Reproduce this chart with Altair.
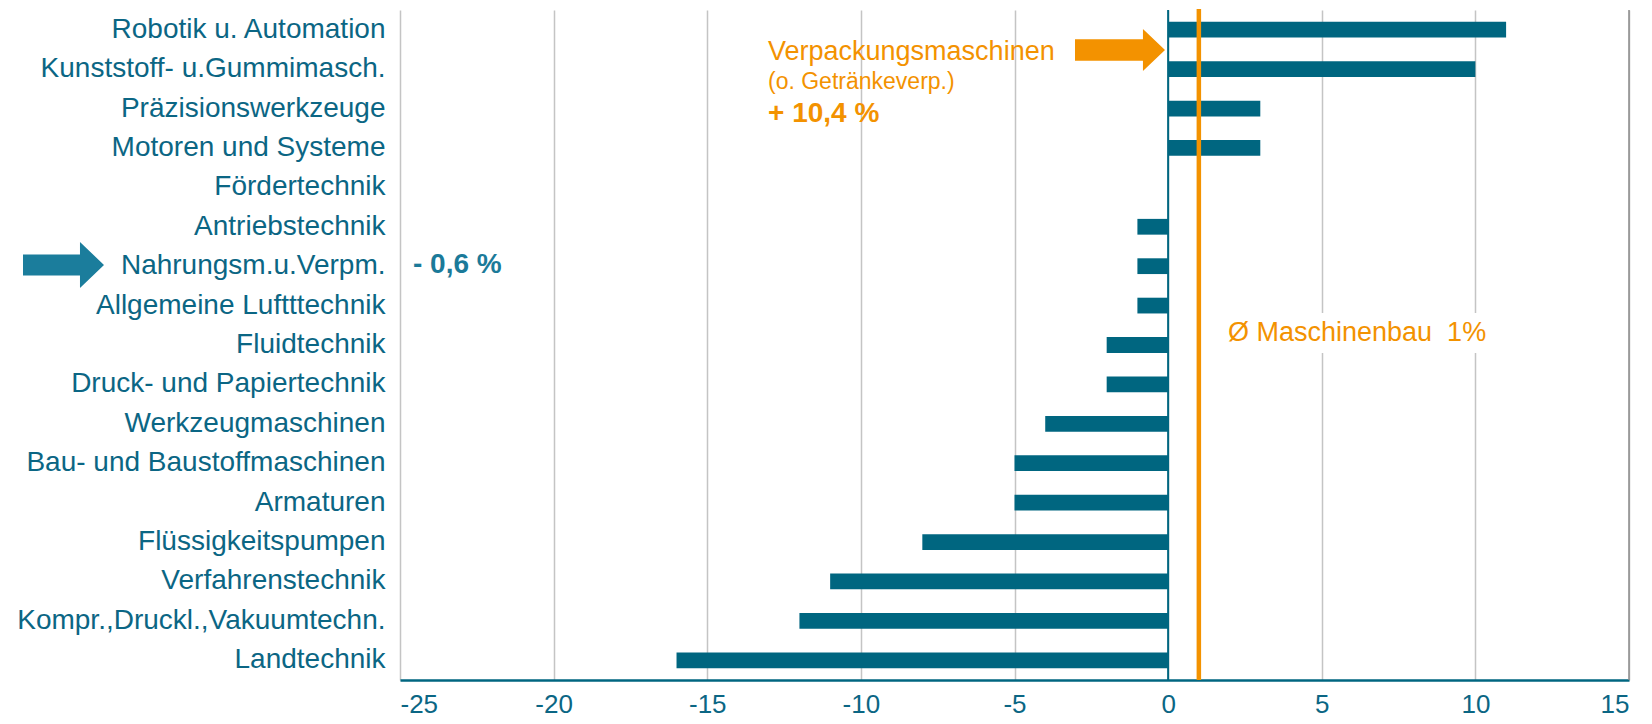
import altair as alt
import pandas as pd

categories = [
    "Robotik u. Automation", "Kunststoff- u.Gummimasch.", "Präzisionswerkzeuge",
    "Motoren und Systeme", "Fördertechnik", "Antriebstechnik", "Nahrungsm.u.Verpm.",
    "Allgemeine Luftttechnik", "Fluidtechnik", "Druck- und Papiertechnik",
    "Werkzeugmaschinen", "Bau- und Baustoffmaschinen", "Armaturen",
    "Flüssigkeitspumpen", "Verfahrenstechnik", "Kompr.,Druckl.,Vakuumtechn.", "Landtechnik",
]
values = [11, 10, 3, 3, 0, -1, -1, -1, -2, -2, -4, -5, -5, -8, -11, -12, -16]
x_ticks = [-25, -20, -15, -10, -5, 0, 5, 10, 15]
average_value = 1

TEAL = "#006680"
TEXT = "#0b6684"
ORANGE = "#f39200"
FONT = "Liberation Sans"

W, H = 1229, 670

df = pd.DataFrame({"cat": categories, "val": values})
dummy = pd.DataFrame({"a": [0]})

xscale = alt.Scale(domain=[-25, 15], nice=False, zero=False)

bars = alt.Chart(df).mark_bar(color=TEAL).encode(
    x=alt.X("val:Q", scale=xscale,
            axis=alt.Axis(values=x_ticks, title=None, grid=True, gridColor="#c4c4c4",
                          gridWidth=1.5, ticks=False, domainColor=TEAL, domainWidth=2.5,
                          labelColor=TEXT, labelFont=FONT, labelFontSize=26,
                          labelPadding=24, labelBaseline="middle",
                          labelExpr="'' + datum.value")),
    x2=alt.datum(0),
    y=alt.Y("cat:N", sort=categories, scale=alt.Scale(paddingInner=0.6, paddingOuter=0.3),
            axis=alt.Axis(title=None, ticks=False, domain=False, labelColor=TEXT,
                          labelFont=FONT, labelFontSize=28, labelPadding=15, labelLimit=500)),
)

zero_rule = alt.Chart(dummy).mark_rule(color=TEAL, strokeWidth=2).encode(
    x=alt.datum(0, scale=xscale), y=alt.value(0), y2=alt.value(H))

right_rule = alt.Chart(dummy).mark_rule(color="#8c8c8c", strokeWidth=1.5).encode(
    x=alt.datum(15, scale=xscale), y=alt.value(0), y2=alt.value(H))

avg_rule = alt.Chart(dummy).mark_rule(color=ORANGE, strokeWidth=4.5).encode(
    x=alt.datum(average_value, scale=xscale), y=alt.value(-1), y2=alt.value(H))

white_box = alt.Chart(dummy).mark_rect(color="white").encode(
    x=alt.value(822), x2=alt.value(1096), y=alt.value(303), y2=alt.value(343))

def txt(text, x, y, color, size, bold=False):
    return alt.Chart(dummy).mark_text(
        text=text, align="left", baseline="middle", font=FONT, fontSize=size,
        fontWeight="bold" if bold else "normal", color=color,
    ).encode(x=alt.value(x), y=alt.value(y))

t1 = txt("Verpackungsmaschinen", 368, 42, ORANGE, 27)
t2 = txt("(o. Getränkeverp.)", 368, 72, ORANGE, 23)
t3 = txt("+ 10,4 %", 368, 104, ORANGE, 28, bold=True)
t4 = txt("- 0,6 %", 13, 255, "#1b7a99", 28, bold=True)
t5 = txt("Ø Maschinenbau \u00a01%", 828, 323, ORANGE, 27)

orange_arrow_path = "M -1 -0.24 L 0.51 -0.24 L 0.51 -0.467 L 1 0 L 0.51 0.467 L 0.51 0.24 L -1 0.24 Z"
blue_arrow_path = "M -1 -0.26 L 0.407 -0.26 L 0.407 -0.568 L 1 0 L 0.407 0.568 L 0.407 0.26 L -1 0.26 Z"

arrow_o = alt.Chart(dummy).mark_point(shape=orange_arrow_path, size=8100, filled=True,
                                      color=ORANGE, opacity=1, strokeWidth=0).encode(
    x=alt.value(720), y=alt.value(40))
arrow_b = alt.Chart(dummy).mark_point(shape=blue_arrow_path, size=6561, filled=True,
                                      color="#1b7d9c", opacity=1, strokeWidth=0).encode(
    x=alt.value(63.5 - 400), y=alt.value(255))

chart = alt.layer(
    bars, zero_rule, right_rule, avg_rule, white_box, t1, t2, t3, t4, t5, arrow_o, arrow_b
).properties(
    width=W, height=H,
    autosize=alt.AutoSizeParams(type="none"),
    padding={"left": 392, "top": 2, "right": 15, "bottom": 44},
).configure_view(stroke=None)

chart.save("out.html", embed_options={"renderer": "svg", "actions": False})
